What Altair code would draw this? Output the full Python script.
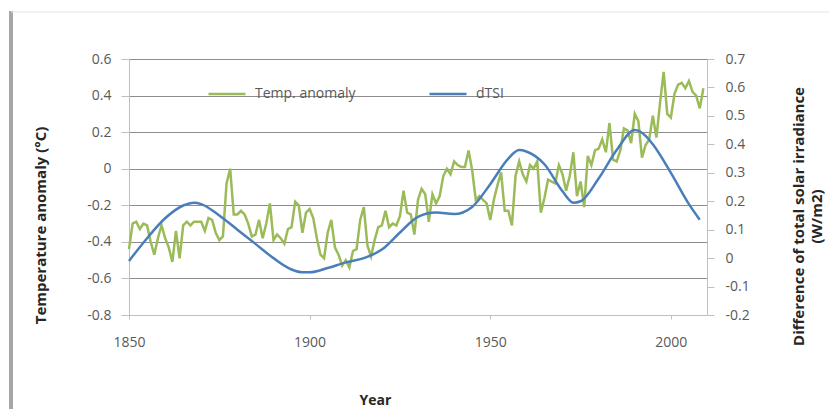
import altair as alt
import pandas as pd

# ---- data ----
temp_years = list(range(1850, 2010))
temp_values = [
    -0.44, -0.30, -0.29, -0.33, -0.30, -0.31, -0.40, -0.47, -0.38, -0.31,
    -0.38, -0.43, -0.51, -0.34, -0.49, -0.31, -0.29, -0.31, -0.29, -0.29,
    -0.29, -0.34, -0.27, -0.28, -0.35, -0.39, -0.37, -0.08, 0.00, -0.25,
    -0.25, -0.23, -0.25, -0.30, -0.37, -0.36, -0.28, -0.38, -0.30, -0.19,
    -0.39, -0.36, -0.38, -0.41, -0.33, -0.32, -0.18, -0.20, -0.35, -0.24,
    -0.22, -0.27, -0.38, -0.47, -0.49, -0.35, -0.28, -0.43, -0.47, -0.53,
    -0.50, -0.54, -0.45, -0.44, -0.28, -0.21, -0.42, -0.48, -0.39, -0.32,
    -0.31, -0.23, -0.32, -0.30, -0.31, -0.26, -0.12, -0.24, -0.25, -0.36,
    -0.17, -0.11, -0.14, -0.29, -0.14, -0.19, -0.15, -0.04, 0.00, -0.03,
    0.04, 0.02, 0.01, 0.01, 0.10, -0.01, -0.17, -0.15, -0.17, -0.19,
    -0.28, -0.17, -0.09, -0.02, -0.23, -0.23, -0.31, -0.04, 0.04, -0.03,
    -0.07, 0.02, 0.00, 0.04, -0.24, -0.16, -0.06, -0.07, -0.08, 0.02,
    -0.03, -0.12, -0.04, 0.09, -0.15, -0.07, -0.21, 0.07, 0.02, 0.10,
    0.11, 0.16, 0.09, 0.25, 0.05, 0.04, 0.10, 0.22, 0.21, 0.14,
    0.30, 0.26, 0.06, 0.13, 0.16, 0.29, 0.17, 0.36, 0.53, 0.30,
    0.28, 0.41, 0.46, 0.47, 0.44, 0.48, 0.42, 0.40, 0.33, 0.44,
]

dtsi_years = [1850, 1855, 1860, 1865, 1868, 1870, 1875, 1880, 1885, 1890,
              1895, 1898, 1900, 1905, 1910, 1915, 1920, 1925, 1930, 1935,
              1940, 1945, 1950, 1955, 1958, 1960, 1965, 1970, 1973, 1975,
              1980, 1985, 1990, 1993, 1995, 2000, 2005, 2008]
dtsi_values = [-0.01, 0.07, 0.14, 0.185, 0.195, 0.19, 0.15, 0.10, 0.05, 0.00,
               -0.04, -0.05, -0.05, -0.035, -0.015, 0.00, 0.03, 0.09, 0.145, 0.16,
               0.155, 0.18, 0.26, 0.35, 0.38, 0.375, 0.33, 0.235, 0.195, 0.20,
               0.28, 0.38, 0.45, 0.43, 0.40, 0.30, 0.19, 0.135]

series_names = ["Temp. anomaly", "dTSI"]
series_colors = ["#9bbb59", "#4a7ebb"]

x_ticks = [1850, 1900, 1950, 2000]
left_ticks = [-0.8, -0.6, -0.4, -0.2, 0, 0.2, 0.4, 0.6]
right_ticks = [-0.2, -0.1, 0, 0.1, 0.2, 0.3, 0.4, 0.5, 0.6, 0.7]

temp_df = pd.DataFrame({"year": temp_years, "value": temp_values,
                        "series": series_names[0]})
dtsi_df = pd.DataFrame({"year": dtsi_years, "value": dtsi_values,
                        "series": series_names[1]})

FONT = "Open Sans"
LABEL_EXPR = "datum.value == 0 ? '0' : replace(format(datum.value, '.1f'), '\u2212', '-')"

color = alt.Color(
    "series:N",
    scale=alt.Scale(domain=series_names, range=series_colors),
    legend=alt.Legend(
        title=None, orient="none", legendX=78, legendY=15,
        direction="horizontal", symbolType="stroke", symbolSize=1369,
        symbolStrokeWidth=2.5, labelFontSize=14, labelColor="#595959",
        labelFont=FONT, labelOffset=8, columnPadding=68,
    ),
)

x = alt.X(
    "year:Q",
    scale=alt.Scale(domain=[1850, 2010], nice=False, zero=False),
    axis=alt.Axis(values=x_ticks, format="d", title="Year", grid=False,
                  labelFlush=False,
                  tickSize=4, labelPadding=16, labelFontSize=14,
                  labelColor="#595959", domainColor="#bfbfbf",
                  tickColor="#bfbfbf", titleX=246, titleY=85,
                  titleBaseline="middle", titleFontSize=14,
                  titleFontWeight="bold", titleColor="#262626"),
)

temp_line = alt.Chart(temp_df).mark_line(strokeWidth=2.5).encode(
    x=x,
    y=alt.Y(
        "value:Q",
        scale=alt.Scale(domain=[-0.8, 0.6], nice=False, zero=False),
        axis=alt.Axis(values=left_ticks, labelExpr=LABEL_EXPR,
                      title="Temperature anomaly (\u00b0C)", grid=True,
                      gridColor="#8c8c8c", tickSize=8, labelPadding=10,
                      labelFontSize=14, labelColor="#595959",
                      domainColor="#bfbfbf", tickColor="#bfbfbf",
                      titleAngle=270, titleX=-89, titleY=166,
                      titleBaseline="middle", titleAlign="center",
                      titleFontSize=15, titleFontWeight="bold",
                      titleColor="#262626"),
    ),
    color=color,
)

dtsi_line = alt.Chart(dtsi_df).mark_line(strokeWidth=2.5, interpolate="monotone").encode(
    x=x,
    y=alt.Y(
        "value:Q",
        scale=alt.Scale(domain=[-0.2, 0.7], nice=False, zero=False),
        axis=alt.Axis(orient="right", values=right_ticks, labelExpr=LABEL_EXPR,
                      title=["Difference of total solar irradiance", "(W/m2)"],
                      grid=False, tickSize=7, labelPadding=11,
                      labelFontSize=14, labelColor="#595959",
                      domainColor="#bfbfbf", tickColor="#bfbfbf",
                      titleAngle=270, titleX=91, titleY=157,
                      titleBaseline="middle", titleAlign="center",
                      titleFontSize=15, titleFontWeight="bold",
                      titleColor="#262626", titleLineHeight=18),
    ),
    color=color,
)

# decorative frame of the original picture (left bar and faint top line)
frame_left = alt.Chart(temp_df.head(1)).mark_rule(color="#a6a6a6", strokeWidth=4).encode(
    x=alt.value(-118), y=alt.value(-48), y2=alt.value(360)
)
frame_top = alt.Chart(temp_df.head(1)).mark_rule(color="#e6e6e6", strokeWidth=1).encode(
    x=alt.value(-118), x2=alt.value(700), y=alt.value(-47)
)

chart = alt.layer(frame_left, frame_top, temp_line, dtsi_line).resolve_scale(
    y="independent"
).properties(
    width=578, height=256,
    autosize=alt.AutoSizeParams(type="none"),
    padding={"left": 121, "top": 51, "right": 123, "bottom": 94},
).configure(font=FONT).configure_view(stroke=None)

chart.save("out.html", embed_options={"renderer": "svg", "actions": False})
